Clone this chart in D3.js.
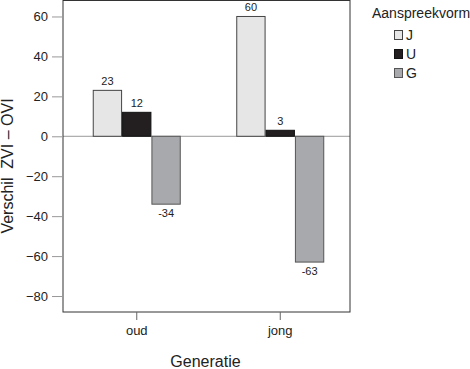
<!DOCTYPE html>
<html><head><meta charset="utf-8">
<script src="https://cdn.jsdelivr.net/npm/d3@7"></script>
<style>body{margin:0;background:#fff}svg{display:block}text{font-family:"Liberation Sans",Arial,sans-serif;fill:#222}</style>
</head><body>
<script>
const categories = ["oud", "jong"];
const seriesNames = ["J", "U", "G"];
const valuesJ = [23, 60];
const valuesU = [12, 3];
const valuesG = [-34, -63];
const yTicks = [60, 40, 20, 0, -20, -40, -60, -80];
const colors = {J: "#e6e6e6", U: "#231f20", G: "#a8a9ac"};
const strokes = {J: "#444", U: "#111", G: "#555"};
const series = {J: valuesJ, U: valuesU, G: valuesG};

const W = 470, H = 369;
const L = 63, R = 350, T = 0.5, B = 312;
const svg = d3.select("body").append("svg").attr("width", W).attr("height", H);

const y = d3.scaleLinear().domain([-88, 68]).range([B, T]);
const x = d3.scaleBand().domain(categories).range([L + 2, R + 2]);
const groupW = 88;
const xs = d3.scaleBand().domain(seriesNames).range([0, groupW]);

// zero line
svg.append("line").attr("x1", L).attr("x2", R).attr("y1", y(0)).attr("y2", y(0))
  .attr("stroke", "#999").attr("stroke-width", 1);

// bars
categories.forEach((c, i) => {
  const gx = x(c) + x.bandwidth() / 2 - groupW / 2;
  seriesNames.forEach(s => {
    const v = series[s][i];
    const bx = gx + xs(s);
    const y0 = y(Math.max(0, v)), y1 = y(Math.min(0, v));
    svg.append("rect").attr("x", bx + 0.5).attr("y", y0).attr("width", xs.bandwidth() - 1)
      .attr("height", y1 - y0).attr("fill", colors[s]).attr("stroke", strokes[s]).attr("stroke-width", 1);
    svg.append("text").attr("x", bx + xs.bandwidth() / 2)
      .attr("y", v >= 0 ? y0 - 5 : y1 + 13)
      .attr("text-anchor", "middle").attr("font-size", 11).text(v);
  });
});

// frame
svg.append("rect").attr("x", L).attr("y", T).attr("width", R - L).attr("height", B - T)
  .attr("fill", "none").attr("stroke", "#333").attr("stroke-width", 1);

// y axis
const yAxis = d3.axisLeft(y).tickValues(yTicks).tickSize(10).tickPadding(4);
const ga = svg.append("g").attr("transform", `translate(${L - 1},0)`).call(yAxis);
ga.select(".domain").remove();
ga.selectAll(".tick line").attr("stroke", "#999");
ga.selectAll(".tick text").attr("font-size", 13).attr("font-family", '"Liberation Sans",Arial,sans-serif').attr("fill", "#222");

// x axis
const xAxis = d3.axisBottom(x).tickSize(8).tickPadding(6);
const gx = svg.append("g").attr("transform", `translate(0,${B})`).call(xAxis);
gx.select(".domain").remove();
gx.selectAll(".tick line").attr("stroke", "#666");
gx.selectAll(".tick text").attr("font-size", 13).attr("font-family", '"Liberation Sans",Arial,sans-serif').attr("fill", "#222");

// titles
svg.append("text").attr("x", (L + R) / 2 - 1).attr("y", 367).attr("text-anchor", "middle")
  .attr("font-size", 16).text("Generatie");
svg.append("text").attr("transform", "translate(13,166) rotate(-90)").attr("text-anchor", "middle")
  .attr("font-size", 16).attr("xml:space", "preserve").style("white-space", "pre").text("Verschil  ZVI – OVI");

// legend
const lg = svg.append("g");
lg.append("text").attr("x", 372).attr("y", 18).attr("font-size", 14).text("Aanspreekvorm");
seriesNames.forEach((s, i) => {
  const yy = 30 + i * 19;
  lg.append("rect").attr("x", 394.5).attr("y", yy + 0.5).attr("width", 8).attr("height", 9)
    .attr("fill", colors[s]).attr("stroke", strokes[s]);
  lg.append("text").attr("x", 406).attr("y", yy + 9.5).attr("font-size", 14).text(s);
});
</script>
</body></html>
